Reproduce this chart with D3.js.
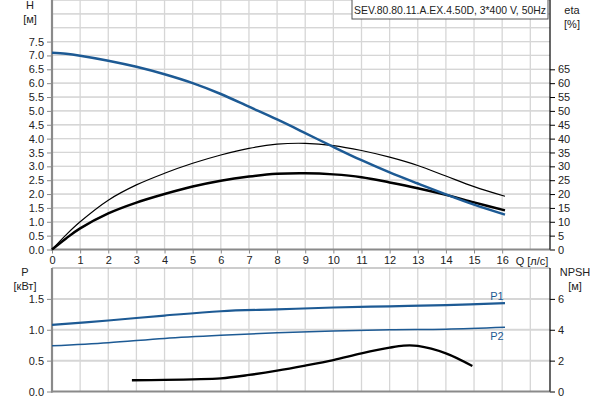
<!DOCTYPE html>
<html><head><meta charset="utf-8">
<script src="https://cdn.jsdelivr.net/npm/d3@7"></script>
<style>body{margin:0;background:#fff}svg{display:block;font-family:"Liberation Sans",Arial,sans-serif}</style>
</head><body><svg id="c" width="600" height="400"></svg>
<script>
const title = "SEV.80.80.11.A.EX.4.50D, 3*400 V, 50Hz";
const qTicks = d3.range(0, 17);
const hTicks = [0,0.5,1,1.5,2,2.5,3,3.5,4,4.5,5,5.5,6,6.5,7,7.5];
const etaTicks = [0,5,10,15,20,25,30,35,40,45,50,55,60,65];
const pTicks = [0,0.5,1,1.5];
const npshTicks = [0,2,4,6];

const qMain = [0,0.5,1,2,3,4,5,6,7,8,9,10,11,12,13,14,15,16.1];
const headH = [7.10,7.06,6.99,6.81,6.59,6.32,6.00,5.61,5.15,4.69,4.20,3.70,3.22,2.78,2.38,1.99,1.62,1.26];
const etaThin = [0,5.3,10.0,17.8,23.3,27.5,31.1,34.1,36.5,38.0,38.3,37.5,35.7,33.3,30.3,26.5,22.7,19.2];
const etaThick = [0,4.0,7.6,13.0,16.9,20.0,22.7,24.8,26.3,27.3,27.5,27.1,26.1,24.2,22.1,19.7,17.0,14.1];

const qP = [0,2,4,6,8,10,12,14,16.1];
const p1 = [1.08,1.15,1.23,1.30,1.33,1.36,1.38,1.40,1.43];
const p2 = [0.74,0.79,0.86,0.91,0.95,0.98,1.00,1.01,1.04];

const qN = [2.84,4,5,6,7,8,9,10,11,12,12.5,13,14,14.94];
const npsh = [0.73,0.75,0.79,0.85,1.07,1.35,1.68,2.04,2.47,2.84,2.97,2.95,2.47,1.65];

const svg = d3.select("#c");
const L = 52, R = 550, T1 = 0, B1 = 249.5, T2 = 268, B2 = 391.5;
const x = d3.scaleLinear().domain([0,17.7]).range([L,R]);
const yH = d3.scaleLinear().domain([0,9]).range([B1,T1]);
const yE = d3.scaleLinear().domain([0,90]).range([B1,T1]);
const yP = d3.scaleLinear().domain([0,2]).range([B2,T2]);
const yN = d3.scaleLinear().domain([0,8]).range([B2,T2]);
const txt = "#222", gridC = "#d6d6d6", axC = "#8a8a8a", blue = "#1d5a94";

// grids
const g = svg.append("g");
[[T1,B1],[T2,B2]].forEach(([t,b])=>{
  g.selectAll(null).data(d3.range(1,18)).enter().append("line")
   .attr("x1",d=>x(d)).attr("x2",d=>x(d)).attr("y1",t).attr("y2",b)
   .attr("stroke",gridC).attr("stroke-width",1.3);
});
g.selectAll(null).data(d3.range(0.5,9.01,0.5)).enter().append("line")
 .attr("x1",L).attr("x2",R).attr("y1",d=>yH(d)).attr("y2",d=>yH(d))
 .attr("stroke",gridC).attr("stroke-width",1.3);
g.selectAll(null).data(d3.range(5,90.1,5)).enter().append("line")
 .attr("x1",L).attr("x2",R).attr("y1",d=>yE(d)).attr("y2",d=>yE(d))
 .attr("stroke",gridC).attr("stroke-width",1);
g.selectAll(null).data([0.5,1,1.5]).enter().append("line")
 .attr("x1",L).attr("x2",R).attr("y1",d=>yP(d)).attr("y2",d=>yP(d))
 .attr("stroke",gridC).attr("stroke-width",2);
g.append("line").attr("x1",L).attr("x2",R).attr("y1",T2).attr("y2",T2).attr("stroke","#999").attr("stroke-width",1);

// axes
function styleAxis(sel, col){
  sel.select(".domain").remove();
  sel.selectAll(".tick line").attr("stroke",col);
  sel.selectAll(".tick text").attr("fill",txt).attr("font-size",11);
}
const aL1 = svg.append("g").attr("transform",`translate(${L},0)`)
  .call(d3.axisLeft(yH).tickValues(hTicks).tickFormat(d3.format(".1f")).tickSize(5).tickPadding(3));
styleAxis(aL1, axC);
const aR1 = svg.append("g").attr("transform",`translate(${R},0)`)
  .call(d3.axisRight(yE).tickValues(etaTicks).tickSize(5).tickPadding(3));
styleAxis(aR1, "#000");
const aB1 = svg.append("g").attr("transform",`translate(0,${B1})`)
  .call(d3.axisBottom(x).tickValues(qTicks).tickSize(4).tickPadding(3));
styleAxis(aB1, axC);
const aL2 = svg.append("g").attr("transform",`translate(${L},0)`)
  .call(d3.axisLeft(yP).tickValues(pTicks).tickFormat(d3.format(".1f")).tickSize(5).tickPadding(3));
styleAxis(aL2, axC);
const aR2 = svg.append("g").attr("transform",`translate(${R},0)`)
  .call(d3.axisRight(yN).tickValues(npshTicks).tickSize(5).tickPadding(3));
styleAxis(aR2, "#000");

// axis lines
svg.append("line").attr("x1",L).attr("x2",L).attr("y1",T1).attr("y2",B1+1).attr("stroke",axC).attr("stroke-width",2.2);
svg.append("line").attr("x1",L-1).attr("x2",R).attr("y1",B1).attr("y2",B1).attr("stroke",axC).attr("stroke-width",2.2);
svg.append("line").attr("x1",R).attr("x2",R).attr("y1",T1).attr("y2",B1).attr("stroke","#000").attr("stroke-width",1.2);
svg.append("line").attr("x1",L).attr("x2",L).attr("y1",T2).attr("y2",B2+1).attr("stroke",axC).attr("stroke-width",2.2);
svg.append("line").attr("x1",L-1).attr("x2",R).attr("y1",B2).attr("y2",B2).attr("stroke",axC).attr("stroke-width",2.2);
svg.append("line").attr("x1",R).attr("x2",R).attr("y1",T2).attr("y2",B2).attr("stroke","#000").attr("stroke-width",1.2);

// curves
function line(ys, yScale){ return d3.line().x(d=>x(d)).y((d,i)=>yScale(ys[i])).curve(d3.curveCatmullRom.alpha(0.5)); }
function draw(xs, ys, ysc, col, w){
  svg.append("path").attr("d", line(ys,ysc)(xs)).attr("fill","none").attr("stroke",col).attr("stroke-width",w).attr("stroke-linecap","butt").attr("stroke-linejoin","round");
}
draw(qMain, etaThin, yE, "#000", 1.2);
draw(qMain, etaThick, yE, "#000", 2.5);
draw(qMain, headH, yH, blue, 2.5);
draw(qP, p1, yP, blue, 2.2);
draw(qP, p2, yP, blue, 1.5);
draw(qN, npsh, yN, "#000", 2.3);

// labels
function t(xp, yp, s, anchor, col, fs){ return svg.append("text").attr("x",xp).attr("y",yp).attr("text-anchor",anchor||"middle").attr("font-size",fs||11).attr("fill",col||txt).text(s); }
t(30,9,"H"); t(30,23,"[м]");
t(572,14,"eta"); t(572,28,"[%]");
t(532,265,"Q [л/с]");
t(25,276,"P"); t(25,290,"[кВт]");
t(575,276,"NPSH"); t(575,290,"[м]");
t(x(16.1)-8,300,"P1","middle",blue);
t(x(16.1)-8,340,"P2","middle",blue);

// title box
svg.append("rect").attr("x",352).attr("y",-1).attr("width",196).attr("height",20).attr("fill","#fff").attr("stroke","#555").attr("stroke-width",1);
t(354,13.5,title,"start",txt,10.5).attr("textLength",192).attr("lengthAdjust","spacingAndGlyphs");
</script></body></html>
